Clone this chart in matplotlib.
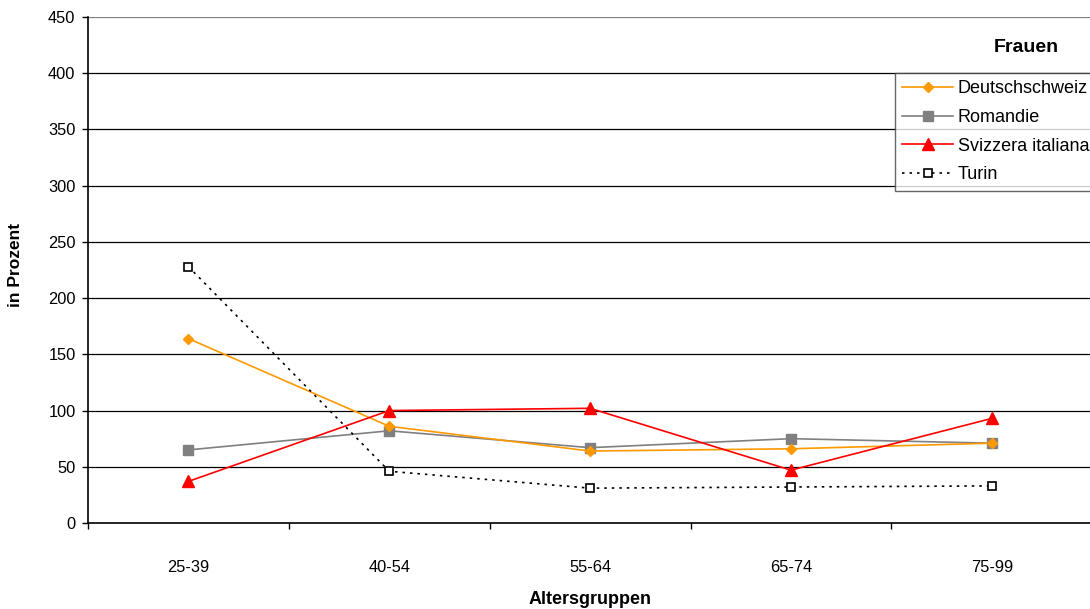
import matplotlib
matplotlib.use("Agg")
import matplotlib.pyplot as plt
import numpy as np

categories = ["25-39", "40-54", "55-64", "65-74", "75-99"]
deutschschweiz = [164, 86, 64, 66, 71]
romandie = [65, 82, 67, 75, 71]
svizzera = [37, 100, 102, 47, 93]
turin = [228, 46, 31, 32, 33]
yticks = [0, 50, 100, 150, 200, 250, 300, 350, 400, 450]

plt.rcParams['font.family'] = ['Liberation Sans', 'DejaVu Sans']

fig = plt.figure(figsize=(10.9, 6.09), dpi=100)
ax = fig.add_axes([88/1090, 1-523/609, 1 - 88/1090 + 0.002, (523-17)/609])

x = np.arange(len(categories))
ax.plot(x, deutschschweiz, color='#FF9900', lw=1.2, marker='D', ms=5.5,
        mec='#FF9900', mfc='#FF9900', label='Deutschschweiz', zorder=4)
ax.plot(x, romandie, color='#808080', lw=1.2, marker='s', ms=6.5,
        mec='#808080', mfc='#808080', label='Romandie', zorder=3)
ax.plot(x, svizzera, color='#FF0000', lw=1.2, marker='^', ms=8,
        mec='#FF0000', mfc='#FF0000', label='Svizzera italiana', zorder=5)
ax.plot(x, turin, color='black', lw=1.2, ls=(0, (1.5, 3)), marker='s', ms=6,
        mec='black', mfc='white', mew=1.2, label='Turin', zorder=6)

ax.set_xlim(-0.5, 4.5)
ax.set_ylim(0, 450)
ax.set_yticks(yticks)
ax.set_yticklabels([str(v) for v in yticks], fontsize=11.8)
ax.set_xticks(np.arange(-0.5, 4.6, 1.0))
ax.set_xticklabels([])
ax.set_xticks(x, minor=True)
ax.set_xticklabels(categories, minor=True, fontsize=11.8)
ax.tick_params(axis='x', which='minor', length=0, pad=27)
ax.tick_params(axis='x', which='major', direction='out', length=4, width=1)
ax.tick_params(axis='y', direction='out', length=4, width=1, pad=5)

for v in yticks[1:]:
    ax.axhline(v, color='black' if v < 450 else '#808080', lw=0.9, zorder=1)

for s in ['top', 'right']:
    ax.spines[s].set_visible(False)
ax.spines['left'].set_linewidth(1.2)
ax.spines['bottom'].set_linewidth(1.2)

fig.text(16/1090, 1-265/609, 'in Prozent', fontsize=12.5, fontweight='bold',
         rotation=90, ha='center', va='center')
fig.text(590/1090, 1-604/609, 'Altersgruppen', fontsize=13, fontweight='bold',
         ha='center', va='baseline')

leg = ax.legend(loc='upper left', bbox_to_anchor=(895/1090, 1-73/609),
                bbox_transform=fig.transFigure, borderaxespad=0,
                fontsize=13, frameon=True, fancybox=False, handlelength=2.8,
                handletextpad=0.28, labelspacing=0.65, borderpad=0.4)
leg.get_frame().set_edgecolor('#404040')
leg.get_frame().set_linewidth(1.0)

fig.text(1026/1090, 1-47/609, 'Frauen', fontsize=14, fontweight='bold',
         ha='center', va='center')

fig.savefig('out.png', dpi=100)
